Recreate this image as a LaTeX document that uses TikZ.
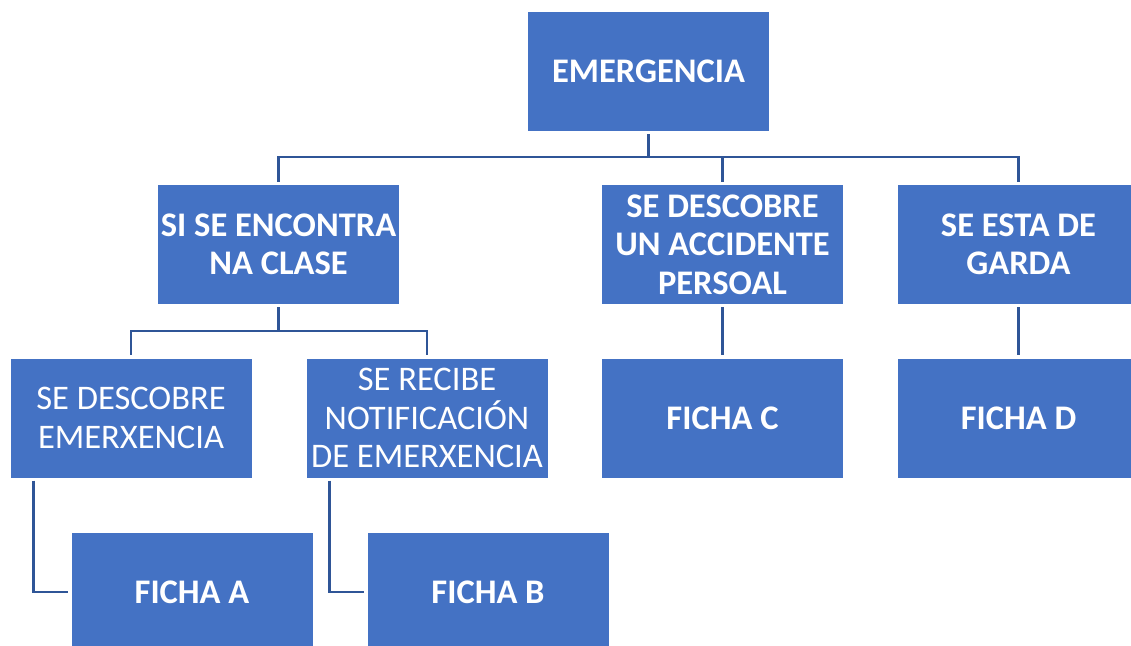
\documentclass[tikz,border=0pt]{standalone}
\usepackage{fontspec}
\setmainfont{Carlito}
\definecolor{boxblue}{RGB}{68,114,196}
\definecolor{linkblue}{RGB}{47,85,151}
\begin{document}
\begin{tikzpicture}[x=1pt,y=-1pt,
 box/.style={fill=boxblue, minimum width=241pt, minimum height=119pt, inner sep=0pt, text=white, align=center, font=\fontsize{34.5}{38.5}\selectfont\bfseries},
 boxr/.style={box, font=\fontsize{34.5}{38.5}\selectfont},
 conn/.style={draw=linkblue, line width=2.5pt, shorten <=3pt, shorten >=3pt}]
\useasboundingbox (0,0) rectangle (1131,645);
\clip (0,0) rectangle (1131,645);
\node[box] (em) at (648.5,71.5) {EMERGENCIA};
\node[box] (sic) at (278.5,244.5) {SI SE ENCONTRA\\NA CLASE};
\node[box] (sda) at (722.5,244.5) {SE DESCOBRE\\UN ACCIDENTE\\PERSOAL};
\node[box] (sgd) at (1018.5,244.5) {SE ESTA DE\\GARDA};
\node[boxr] (sde) at (131,418) {SE DESCOBRE\\EMERXENCIA};
\node[boxr] (sre) at (427,418) {SE RECIBE\\NOTIFICACIÓN\\DE EMERXENCIA};
\node[box] (fc) at (722.5,418) {FICHA C};
\node[box] (fd) at (1018.5,418) {FICHA D};
\node[box] (fa) at (192,592) {FICHA A};
\node[box] (fb) at (488,592) {FICHA B};
\coordinate (bus) at (0,157);
\coordinate (busb) at (0,331);
\draw[conn] (em.south) -- (em.south |- bus) -| (sic.north);
\draw[conn] (em.south) -- (em.south |- bus) -| (sda.north);
\draw[conn] (em.south) -- (em.south |- bus) -| (sgd.north);
\draw[conn] (sic.south) -- (sic.south |- busb) -| (sde.north);
\draw[conn] (sic.south) -- (sic.south |- busb) -| (sre.north);
\draw[conn] (sda.south) -- (fc.north);
\draw[conn] (sgd.south) -- (fd.north);
\draw[conn] ([xshift=23pt]sde.south west) |- (fa.west);
\draw[conn] ([xshift=23pt]sre.south west) |- (fb.west);
\end{tikzpicture}
\end{document}
